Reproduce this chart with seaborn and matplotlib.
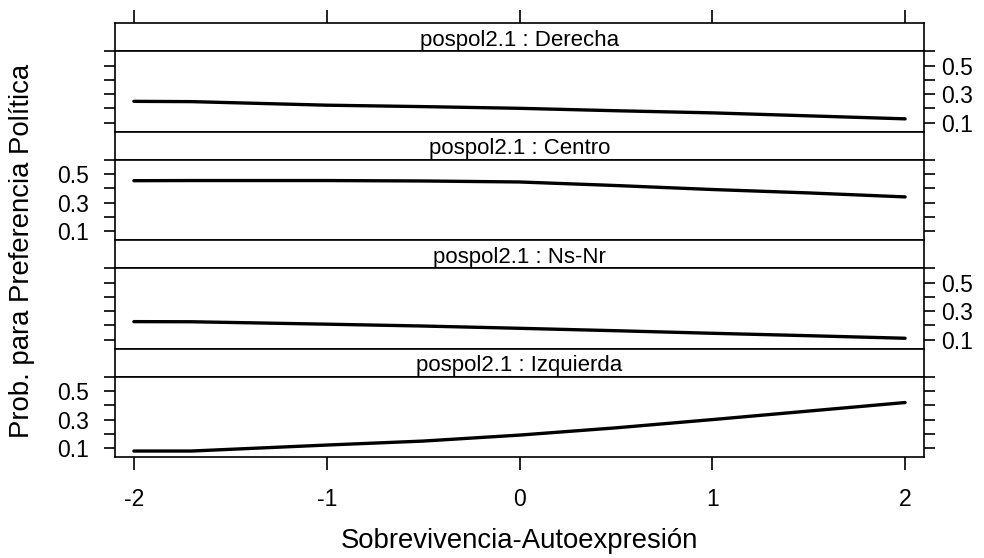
import matplotlib
matplotlib.use("Agg")
import matplotlib.pyplot as plt
import seaborn as sns
import pandas as pd

# ---- data ----
x_vals = [-2.0, -1.7, -1.0, -0.5, 0.0, 0.5, 1.0, 1.5, 2.0]
derecha = [0.249, 0.247, 0.222, 0.212, 0.200, 0.183, 0.168, 0.147, 0.126]
centro = [0.454, 0.455, 0.455, 0.452, 0.445, 0.420, 0.392, 0.368, 0.340]
nsnr = [0.226, 0.225, 0.208, 0.195, 0.179, 0.162, 0.144, 0.127, 0.109]
izquierda = [0.079, 0.079, 0.121, 0.149, 0.191, 0.242, 0.300, 0.360, 0.420]
panel_names = ["Derecha", "Centro", "Ns-Nr", "Izquierda"]
panel_values = [derecha, centro, nsnr, izquierda]
strip_prefix = "pospol2.1 : "
x_ticks = [-2, -1, 0, 1, 2]
x_ticklabels = ["-2", "-1", "0", "1", "2"]
y_ticks = [0.1, 0.2, 0.3, 0.4, 0.5, 0.6]
y_ticklabels = ["0.1", "", "0.3", "", "0.5", ""]
x_label = "Sobrevivencia-Autoexpresión"
y_label = "Prob. para Preferencia Política"

rows = []
for name, vals in zip(panel_names, panel_values):
    for xv, yv in zip(x_vals, vals):
        rows.append({"panel": name, "x": xv, "prob": yv})
df = pd.DataFrame(rows)

sns.set_style("ticks")
plt.rcParams["font.family"] = ["Liberation Sans", "DejaVu Sans"]
plt.rcParams["axes.unicode_minus"] = False

W, H = 984, 558
fig = plt.figure(figsize=(W / 100, H / 100), dpi=100)
fig.patch.set_facecolor("white")


def fr(x0, y0, x1, y1):
    return [x0 / W, 1 - y1 / H, (x1 - x0) / W, (y1 - y0) / H]


X0, X1 = 115, 924
TOP = 23
STRIP_H = 28
PANEL_H = 80.5
xlim = (-2.098, 2.098)
ylim = (0.037, 0.603)
LW_FRAME = 1.2
sides = ["right", "left", "right", "left"]

for i, name in enumerate(panel_names):
    ys = TOP + i * (STRIP_H + PANEL_H)
    # strip
    sax = fig.add_axes(fr(X0, ys, X1, ys + STRIP_H))
    sax.set_facecolor("white")
    sax.set_xlim(xlim)
    sax.set_ylim(0, 1)
    sax.set_yticks([])
    for sp in sax.spines.values():
        sp.set_visible(True)
        sp.set_linewidth(LW_FRAME)
        sp.set_color("black")
    if i == 0:
        sax.set_xticks(x_ticks)
        sax.tick_params(axis="x", top=True, bottom=False, labeltop=False,
                        labelbottom=False, direction="out", length=9.5,
                        width=LW_FRAME, color="black")
    else:
        sax.set_xticks([])
    sax.text(0.5, 0.38, strip_prefix + name, transform=sax.transAxes,
             ha="center", va="center", fontsize=16, color="black")

    # panel
    ax = fig.add_axes(fr(X0, ys + STRIP_H, X1, ys + STRIP_H + PANEL_H))
    sub = df[df["panel"] == name]
    sns.lineplot(data=sub, x="x", y="prob", ax=ax, color="black",
                 linewidth=2.4, legend=False)
    ax.set_xlim(xlim)
    ax.set_ylim(ylim)
    ax.set_xlabel("")
    ax.set_ylabel("")
    for sp in ax.spines.values():
        sp.set_visible(True)
        sp.set_linewidth(LW_FRAME)
        sp.set_color("black")
    ax.set_yticks(y_ticks)
    ax.set_yticklabels(y_ticklabels)
    side = sides[i]
    ax.tick_params(axis="y", which="both", left=True, right=True,
                   labelleft=(side == "left"), labelright=(side == "right"),
                   direction="out", length=8, width=LW_FRAME,
                   labelsize=16.5, color="black", labelcolor="black")
    if side == "left":
        ax.tick_params(axis="y", pad=11)
    else:
        ax.tick_params(axis="y", pad=4.5)
    ax.set_xticks(x_ticks)
    if i == len(panel_names) - 1:
        ax.set_xticklabels(x_ticklabels)
        ax.tick_params(axis="x", bottom=True, top=False, labelbottom=True,
                       direction="out", length=9, width=LW_FRAME,
                       labelsize=16.5, pad=13, color="black",
                       labelcolor="black")
    else:
        ax.tick_params(axis="x", bottom=False, top=False,
                       labelbottom=False, labeltop=False)

fig.text((X0 + X1) / 2 / W, 1 - 541 / H, x_label, ha="center", va="center",
         fontsize=19.8, color="black")
fig.text(22 / W, 1 - 251 / H, y_label, ha="center", va="center",
         rotation=90, fontsize=19.8, color="black")

fig.savefig("out.png", dpi=100, facecolor="white")
